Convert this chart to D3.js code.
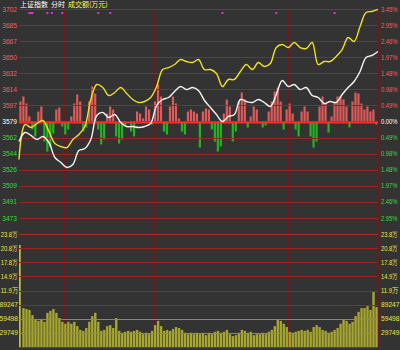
<!DOCTYPE html>
<html lang="zh">
<head>
<meta charset="UTF-8">
<title>上证指数 分时</title>
<script src="https://d3js.org/d3.v7.min.js"></script>
<style>
  body { margin: 0; background: #333333; }
  svg { display: block; }
  text { font-family: "Liberation Sans", Arial, sans-serif; font-size: 7.5px; }
  .title { font-family: "Noto Sans CJK SC", sans-serif; font-size: 7px; }
</style>
</head>
<body>
<svg width="400" height="350"></svg>
<script>
// ---- data ----
const prevClose = 3579;
const priceStep = 17.6;               // one grid row
const priceLabels = ["3702","3685","3667","3650","3632","3614","3597","3579","3562","3544","3526","3509","3491","3473"];
const pctLabels   = ["3.45%","2.95%","2.46%","1.97%","1.48%","0.98%","0.49%","0.00%","0.49%","0.98%","1.48%","1.97%","2.46%","2.95%"];
const volLabels   = ["23.8万","20.8万","17.8万","14.9万","11.9万","89247","59498","29749"];
const volStep = 29749;

// minute of each sampled point (every 4 minutes, 0..240)
const lineMinutes = d3.range(0, 241, 4);
const whiteLine = [3557.1,3567.0,3563.7,3559.3,3562.6,3556.0,3539.6,3534.1,3528.6,3531.9,
  3547.2,3549.4,3559.3,3585.6,3588.9,3583.4,3586.7,3577.9,3573.5,3573.5,
  3572.4,3573.5,3576.8,3596.5,3603.1,3605.3,3611.9,3617.3,3614.0,3616.2,
  3612.9,3602.0,3594.3,3586.7,3579.0,3584.5,3586.7,3603.1,3600.9,3599.8,
  3603.1,3599.8,3595.4,3608.6,3623.9,3617.3,3619.5,3614.0,3616.2,3607.5,
  3605.3,3598.7,3600.9,3599.8,3608.6,3616.2,3622.8,3633.8,3649.1,3651.3,3655.7];
const yellowLine = [3537.4,3575.7,3572.4,3576.8,3580.1,3568.0,3554.9,3551.6,3550.5,3559.3,
  3564.8,3573.5,3603.1,3619.5,3616.2,3607.5,3610.8,3616.2,3609.7,3603.1,
  3599.8,3600.9,3605.3,3617.3,3635.9,3638.1,3641.4,3646.9,3644.7,3643.6,
  3646.9,3635.9,3635.9,3631.6,3617.3,3625.0,3625.0,3633.8,3641.4,3635.9,
  3643.6,3639.2,3642.5,3660.0,3663.3,3660.0,3665.5,3660.0,3658.9,3665.5,
  3641.4,3644.7,3644.7,3650.2,3657.8,3671.0,3666.6,3683.0,3698.4,3699.5,3701.7];

// buy/sell strength bars, one per 2 minutes (red up, green down)
const strength = [20,25,18,5,-8,-15,10,15,-20,-30,
  -25,-12,12,14,-5,-13,-8,5,18,27,
  20,-10,-6,20,35,28,-8,-23,-18,8,
  15,12,-15,-22,-18,-5,0,-10,-15,10,
  8,3,15,12,-3,20,37,25,-10,-13,
  15,25,18,3,-10,-13,10,12,10,8,
  -26,10,13,12,-8,-20,-30,-25,8,22,
  15,-20,-10,20,29,22,-6,5,15,12,
  0,-6,-4,10,20,30,34,20,-8,12,
  18,8,-8,-15,10,15,10,-15,-26,-20,
  15,25,18,-11,5,20,25,25,22,15,
  -6,20,29,28,18,12,15,10,12,-3];

// turnover, one per 2 minutes
const volume = [215000,82000,80000,78000,67000,57000,55000,57000,53000,72000,
  76000,80000,72000,61000,53000,49000,53000,49000,53000,44000,
  36000,34000,40000,53000,65000,72000,53000,34000,36000,44000,
  46000,40000,61000,34000,30000,32000,34000,32000,34000,36000,
  32000,27000,30000,27000,34000,46000,55000,44000,34000,36000,
  34000,38000,42000,40000,36000,30000,27000,30000,27000,30000,
  27000,30000,25000,30000,27000,32000,34000,30000,32000,36000,
  27000,23000,25000,30000,36000,34000,30000,32000,25000,27000,
  27000,30000,27000,32000,36000,44000,57000,55000,49000,42000,
  32000,30000,32000,34000,36000,34000,36000,32000,42000,46000,
  42000,36000,34000,30000,32000,36000,40000,49000,57000,55000,
  49000,53000,65000,74000,82000,82000,86000,78000,116000,84000];

const newsMinutes = [7, 8, 9, 19, 22, 29, 53, 61, 136, 172, 211];

// ---- layout ----
const plotLeft = 19, plotRight = 378, plotTop = 9, plotMid = 234, plotBottom = 347;
const svg = d3.select("svg");

const x = d3.scaleLinear().domain([0, 240]).range([plotLeft, plotRight]);
const y = d3.scaleLinear()
  .domain([prevClose - 7 * priceStep, prevClose + 7 * priceStep])
  .range([plotMid, plotTop]);
const yVol = d3.scaleLinear().domain([0, 8 * volStep]).range([plotBottom, plotMid]);
const yStr = d3.scaleLinear().domain([0, 1]).range([0, 1]); // strength -> px offset

const priceTicks = d3.range(7, -7, -1).map(k => prevClose + k * priceStep);
const volTicks = d3.range(8, 0, -1).map(k => k * volStep);

// vertical grid
svg.append("g").selectAll("line")
  .data(d3.range(0, 241, 30))
  .enter().append("line")
  .attr("x1", d => Math.round(x(d)) + 0.5).attr("x2", d => Math.round(x(d)) + 0.5)
  .attr("y1", plotTop).attr("y2", plotBottom)
  .attr("stroke", "#6a1a1a")
  .attr("stroke-width", 1);

// volume bars
const bw = x(2) - x(0);
svg.append("g").selectAll("rect")
  .data(volume)
  .enter().append("rect")
  .attr("x", (d, i) => x(i * 2) + 0.3)
  .attr("width", (d, i) => i === 0 ? 1.2 : bw - 0.6)
  .attr("y", d => yVol(d))
  .attr("height", d => plotBottom - yVol(d))
  .attr("fill", (d, i) => i === 0 ? "#ffff40" : "#a6a630");

// strength bars
svg.append("g").selectAll("rect")
  .data(strength)
  .enter().append("rect")
  .attr("x", (d, i) => x(i * 2) + 0.3)
  .attr("width", bw - 0.8)
  .attr("y", d => d > 0 ? y(prevClose) - yStr(d) : y(prevClose))
  .attr("height", d => Math.abs(yStr(d)))
  .attr("fill", d => d > 0 ? "#e05a5a" : "#22b522");

// horizontal grid
svg.append("g").selectAll("line")
  .data(priceTicks)
  .enter().append("line")
  .attr("x1", plotLeft).attr("x2", plotRight)
  .attr("y1", d => Math.round(y(d)) + 0.5).attr("y2", d => Math.round(y(d)) + 0.5)
  .attr("stroke", (d, i) => i === 7 ? "#ff2a2a" : "#9a2424")
  .attr("stroke-width", (d, i) => i === 7 ? 2 : 1);

svg.append("g").selectAll("line")
  .data(volTicks.slice(1).concat([0]))
  .enter().append("line")
  .attr("x1", plotLeft).attr("x2", plotRight)
  .attr("y1", d => Math.round(yVol(d)) + 0.5).attr("y2", d => Math.round(yVol(d)) + 0.5)
  .attr("stroke", d => d === 0 ? "#b02020" : (d <= 2 * volStep ? "#c8782a" : "#9a2424"))
  .attr("stroke-width", 1);

svg.append("line")
  .attr("x1", plotLeft).attr("x2", plotRight)
  .attr("y1", plotMid + 0.5).attr("y2", plotMid + 0.5)
  .attr("stroke", "#b02828");

// index lines
const line = d3.line()
  .x((d, i) => x(lineMinutes[i]))
  .y(d => y(d))
  .curve(d3.curveCatmullRom.alpha(0.5));

svg.append("path").datum(yellowLine)
  .attr("d", line).attr("fill", "none")
  .attr("stroke", "#f0e020").attr("stroke-width", 1.4);
svg.append("path").datum(whiteLine)
  .attr("d", line).attr("fill", "none")
  .attr("stroke", "#f4f4f4").attr("stroke-width", 1.4);

// news markers
svg.append("g").selectAll("rect")
  .data(newsMinutes)
  .enter().append("rect")
  .attr("x", d => x(d) - 1).attr("y", 12)
  .attr("width", 2).attr("height", 2)
  .attr("fill", "#e030e0");

// labels, squeezed horizontally to the narrow widths of the original bitmap font
const priceColor = i => i < 7 ? "#ff5a5a" : (i === 7 ? "#ffffff" : "#33dd33");
const targetWidth = s => s.includes("万") ? 17.5 : s.includes("%") ? 16.5 : s.length * 3.7;

function addLabels(ticks, scale, labels, xPos, anchor, color) {
  svg.append("g").selectAll("text")
    .data(ticks)
    .enter().append("text")
    .attr("text-anchor", anchor)
    .attr("fill", color)
    .text((d, i) => labels[i])
    .each(function(d, i) {
      const k = Math.min(1, targetWidth(labels[i]) / this.getComputedTextLength());
      d3.select(this).attr("transform",
        `translate(${xPos},${scale(d) + 2.6}) scale(${k},1)`);
    });
}

addLabels(priceTicks, y, priceLabels, 17, "end", (d, i) => priceColor(i));
addLabels(priceTicks, y, pctLabels, 381, "start", (d, i) => priceColor(i));
addLabels(volTicks, yVol, volLabels, 18, "end", "#e8e840");
addLabels(volTicks, yVol, volLabels, 381, "start", "#e8e840");

// title
const title = svg.append("text").attr("class", "title").attr("x", 20).attr("y", 7);
title.append("tspan").attr("fill", "#ffffff").text("上证指数");
title.append("tspan").attr("fill", "#ffffff").attr("dx", 3).text("分时");
title.append("tspan").attr("fill", "#ffff40").attr("dx", 3).text("成交额(万元)");
</script>
</body>
</html>
